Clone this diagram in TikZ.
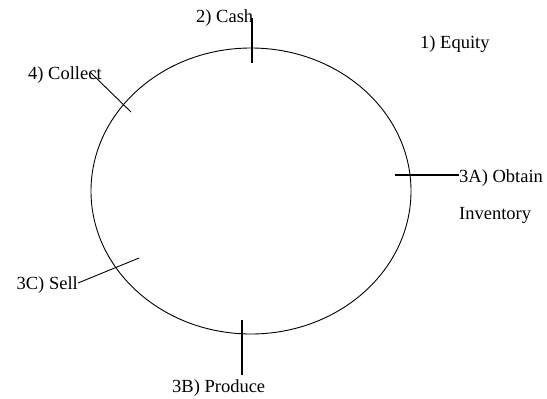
\documentclass[tikz,border=0pt]{standalone}
\usepackage{fontspec}
\setmainfont{Liberation Serif}
\begin{document}
\begin{tikzpicture}[x=1pt,y=-1pt,
  lbl/.style={inner sep=0pt,font=\fontsize{18.5}{37}\selectfont},
  thickmark/.style={line width=1.8pt},
  thinmark/.style={line width=0.9pt}]
\useasboundingbox (0,0) rectangle (547,399);
\draw[line width=0.9pt] (251,191) ellipse [x radius=160, y radius=143];
% labels
\node[lbl,anchor=base west] (cash) at (196,22) {2) Cash};
\node[lbl,anchor=base west] (equity) at (420,48) {1) Equity};
\node[lbl,anchor=base west] (collect) at (28,79) {4) Collect};
\node[lbl,anchor=base west,align=left] (obtain) at (459,219) {3A) Obtain\\Inventory};
\node[lbl,anchor=base east] (sell) at (78,289) {3C) Sell};
\node[lbl,anchor=base west] (produce) at (172,392) {3B) Produce};
% marks
\coordinate (c1) at (252,18); \coordinate (c2) at (252,63);
\coordinate (k1) at (90,72); \coordinate (k2) at (131,112);
\coordinate (a1) at (395,175); \coordinate (a2) at (459,175);
\coordinate (s1) at (78,283); \coordinate (s2) at (139,258);
\coordinate (p1) at (242,320); \coordinate (p2) at (242,375);
\draw[thickmark] (c1) -- (c2);
\draw[thinmark] (k1) -- (k2);
\draw[thickmark] (a1) -- (a2);
\draw[thinmark] (s1) -- (s2);
\draw[thickmark] (p1) -- (p2);
\end{tikzpicture}
\end{document}
